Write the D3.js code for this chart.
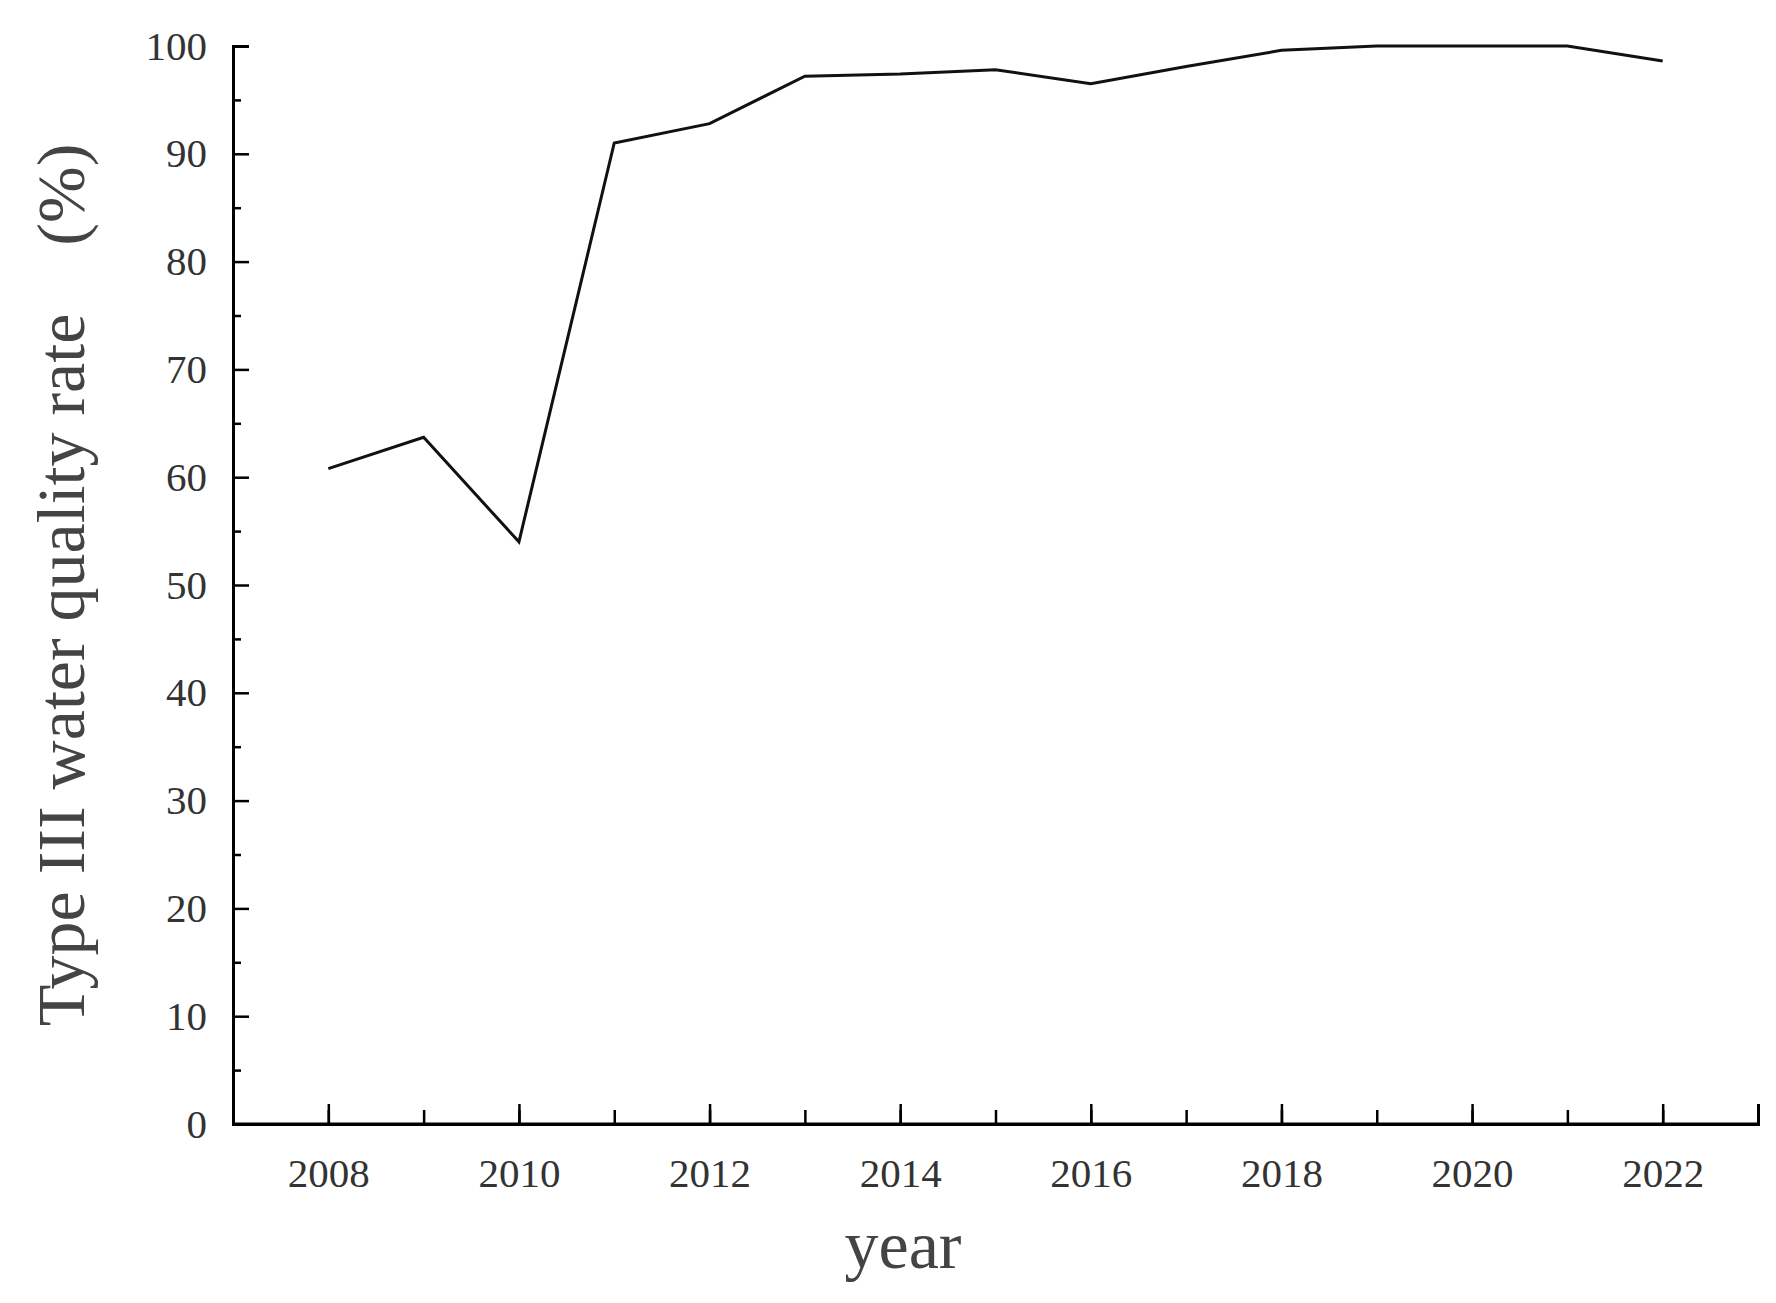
<!DOCTYPE html>
<html><head><meta charset="utf-8">
<script src="https://cdn.jsdelivr.net/npm/d3@7"></script>
<style>body{margin:0;background:#fff}</style>
</head><body><div class="canvas"></div>
<script>
const years = [2008,2009,2010,2011,2012,2013,2014,2015,2016,2017,2018,2019,2020,2021,2022];
const rates = [60.8,63.7,54.0,91.0,92.8,97.2,97.4,97.8,96.5,98.1,99.6,100,100,100,98.6];
const yearTicks = [2008,2010,2012,2014,2016,2018,2020,2022];
const rateTicks = [0,10,20,30,40,50,60,70,80,90,100];

const svg = d3.select(".canvas").append("svg")
	.attr("width", 1776).attr("height", 1303);

const x = d3.scaleLinear().domain([2007, 2023]).range([233, 1758]);
const y = d3.scaleLinear().domain([0, 100]).range([1124, 46]);
const font = "'Liberation Serif','DejaVu Serif',serif";

// minor ticks (inward)
svg.append("g").attr("transform", "translate(0,1124)")
	.call(d3.axisBottom(x).tickValues(d3.range(2008, 2023)).tickSize(-14).tickFormat(""))
	.call(g => g.select(".domain").remove());
svg.append("g").attr("transform", "translate(233,0)")
	.call(d3.axisLeft(y).tickValues(d3.range(5, 100, 10)).tickSize(-8).tickFormat(""))
	.call(g => g.select(".domain").remove());

const xAxis = svg.append("g").attr("transform", "translate(0,1124)")
	.call(d3.axisBottom(x).tickValues(yearTicks).tickSize(-20).tickPadding(34).tickFormat(d3.format("d")));
const yAxis = svg.append("g").attr("transform", "translate(233,0)")
	.call(d3.axisLeft(y).tickValues(rateTicks).tickSize(-16).tickPadding(26));
[xAxis, yAxis].forEach(a => {
	a.selectAll("text").attr("font-family", font).attr("font-size", 41).attr("fill", "#333");
	a.select(".domain").attr("stroke-width", 3);
});
svg.selectAll(".tick line").attr("stroke-width", 2.5);
svg.append("line").attr("x1", 233).attr("x2", 1758).attr("y1", 1124).attr("y2", 1124)
	.attr("stroke", "#000").attr("stroke-width", 3);

svg.append("path").datum(years.map((d, i) => [d, rates[i]]))
	.attr("fill", "none").attr("stroke", "#111").attr("stroke-width", 3)
	.attr("d", d3.line().x(d => x(d[0])).y(d => y(d[1])));

svg.append("text").text("year")
	.attr("x", 903).attr("y", 1268).attr("text-anchor", "middle")
	.attr("font-family", font).attr("font-size", 68).attr("fill", "#444");
svg.append("text").text("Type III water quality rate\u2002\u2002(%)")
	.attr("transform", "translate(84,585) rotate(-90)").attr("text-anchor", "middle")
	.attr("font-family", font).attr("font-size", 68).attr("fill", "#444");
</script></body></html>
